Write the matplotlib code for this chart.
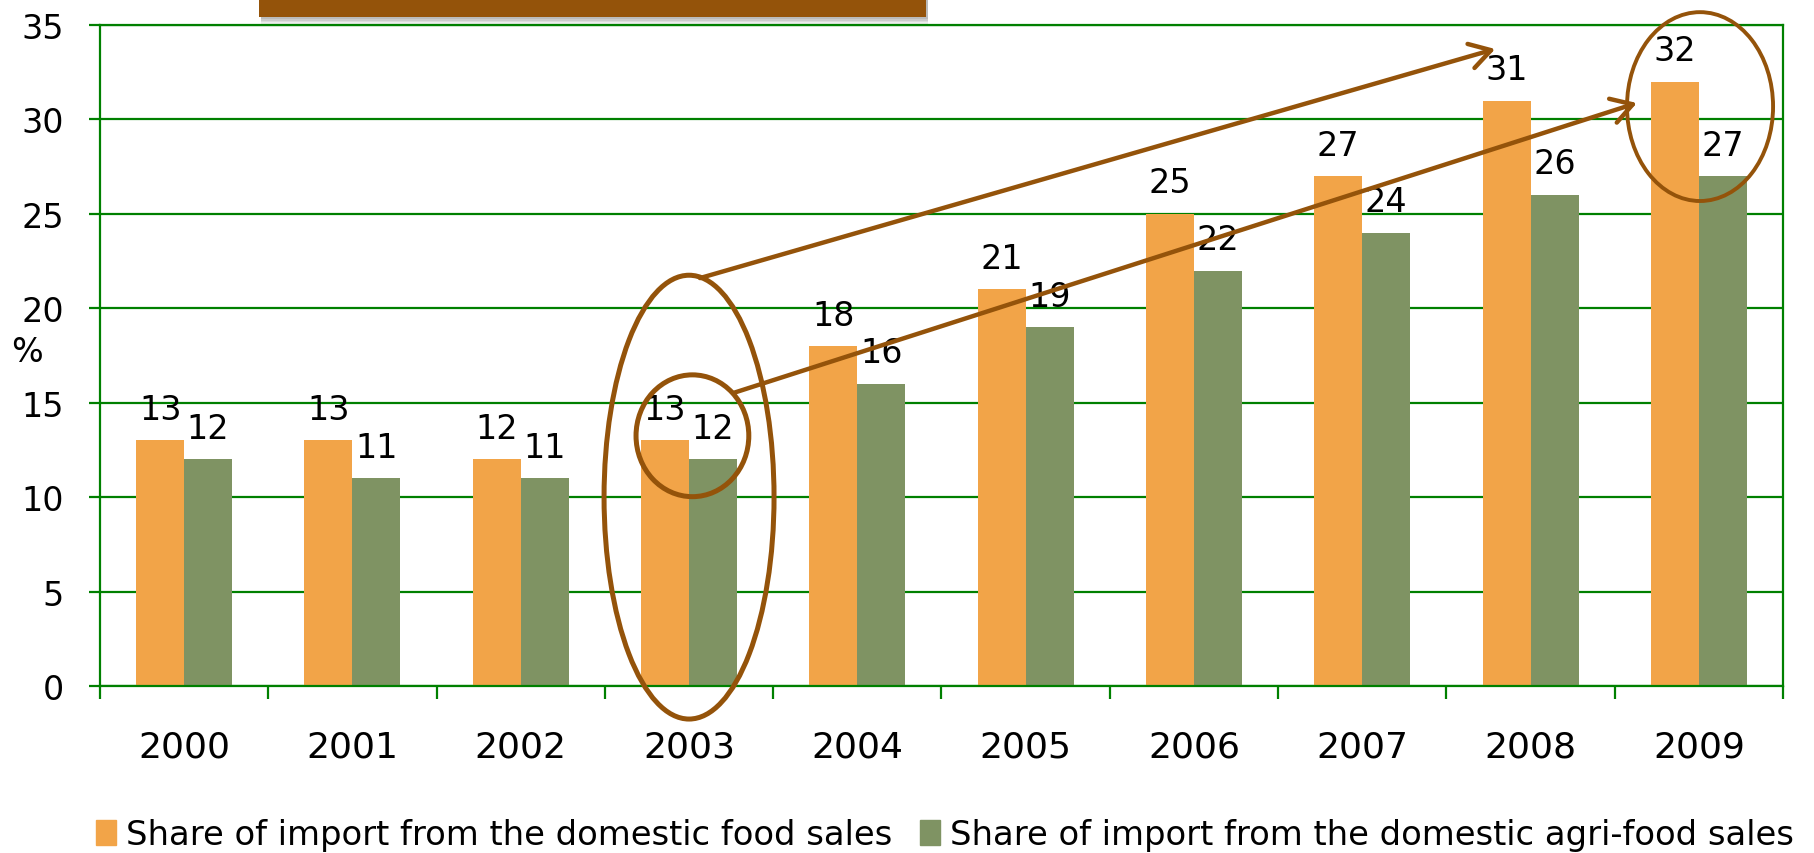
import matplotlib
matplotlib.use("Agg")
import matplotlib.pyplot as plt
from matplotlib import font_manager
from matplotlib.patches import Ellipse, Rectangle, Patch

# Data
years = ["2000", "2001", "2002", "2003", "2004", "2005", "2006", "2007", "2008", "2009"]
food_share = [13, 13, 12, 13, 18, 21, 25, 27, 31, 32]
agrifood_share = [12, 11, 11, 12, 16, 19, 22, 24, 26, 27]
series_labels = ["Share of import from the domestic food sales",
                 "Share of import from the domestic agri-food sales"]
y_ticks = [0, 5, 10, 15, 20, 25, 30, 35]

ORANGE = "#F2A448"
GREEN = "#7F9363"
GRID = "#008000"
BROWN = "#94530A"

installed = {f.name for f in font_manager.fontManager.ttflist}
narrow = "Liberation Sans Narrow" if "Liberation Sans Narrow" in installed else "DejaVu Sans"
plt.rcParams["font.family"] = ["DejaVu Sans"]

fig = plt.figure(figsize=(18.15, 8.54), dpi=100)
ax = fig.add_axes([100 / 1815, 1 - 687 / 854, 1683 / 1815, 661 / 854])

x = list(range(len(years)))
w = 0.285
bars1 = ax.bar([i - w / 2 for i in x], food_share, width=w, color=ORANGE, zorder=2)
bars2 = ax.bar([i + w / 2 for i in x], agrifood_share, width=w, color=GREEN, zorder=2)

for bars, vals in ((bars1, food_share), (bars2, agrifood_share)):
    for b, v in zip(bars, vals):
        ax.annotate(str(v), (b.get_x() + b.get_width() / 2, v), xytext=(0, 15.5),
                    textcoords="offset points", ha="center", va="baseline",
                    fontsize=24, color="black", zorder=4)

ax.set_xlim(-0.5, len(years) - 0.5)
ax.set_ylim(0, 35)
ax.set_yticks(y_ticks)
ax.set_xticks(x)
ax.set_xticklabels(years)
ax.set_xticks([i - 0.5 for i in range(len(years) + 1)], minor=True)

ax.yaxis.grid(True, color=GRID, linewidth=1.6, zorder=0)
ax.set_axisbelow(True)
for s in ax.spines.values():
    s.set_color(GRID)
    s.set_linewidth(1.6)

ax.tick_params(axis="y", direction="out", length=8, width=1.6, color=GRID,
               labelsize=24, pad=18)
ax.tick_params(axis="x", which="major", length=0, labelsize=26, pad=31)
ax.tick_params(axis="x", which="minor", direction="out", length=9, width=1.6, color=GRID)

fig.text(27 / 1815, 1 - 353 / 854, "%", fontsize=24, ha="center", va="center")

# Highlight rings and trend arrows
ax.add_patch(Ellipse((3.0, 10.0), 1.01, 23.5, fill=False, edgecolor=BROWN,
                     linewidth=3.6, zorder=5, clip_on=False))
ax.add_patch(Ellipse((3.02, 13.25), 0.67, 6.45, fill=False, edgecolor=BROWN,
                     linewidth=3.6, zorder=5, clip_on=False))
ax.add_patch(Ellipse((9.007, 30.68), 0.868, 10.0, fill=False, edgecolor=BROWN,
                     linewidth=2.8, zorder=5, clip_on=False))

arrow_style = dict(arrowstyle="->,head_length=0.75,head_width=0.45", color=BROWN,
                   lw=3.2, shrinkA=0, shrinkB=0, mutation_scale=20)
ax.annotate("", xy=(7.79, 33.73), xytext=(3.065, 21.6), arrowprops=arrow_style,
            annotation_clip=False, zorder=6)
ax.annotate("", xy=(8.632, 30.87), xytext=(3.261, 15.51), arrowprops=arrow_style,
            annotation_clip=False, zorder=6)

# Title band at the top with a soft shadow
bx, bw = 259 / 1815, (926 - 259) / 1815
for k, a in enumerate([0.10, 0.10, 0.12, 0.14]):
    off = (7 - 1.6 * k) / 854
    fig.patches.append(Rectangle((bx + 2 / 1815, 1 - 18 / 854 - off), bw, 18 / 854 + 0.01,
                                 transform=fig.transFigure, color="#555555", alpha=a,
                                 linewidth=0, zorder=1))
fig.patches.append(Rectangle((bx, 1 - 18 / 854), bw, 18 / 854 + 0.01,
                             transform=fig.transFigure, color=BROWN, linewidth=0, zorder=2))

handles = [Patch(color=ORANGE), Patch(color=GREEN)]
fs = 30 if narrow != "DejaVu Sans" else 24.3
fig.legend(handles, series_labels, loc="center left", bbox_to_anchor=(96 / 1815, 1 - 836 / 854),
           ncol=2, frameon=False, prop={"family": narrow, "size": fs},
           handlelength=0.6, handleheight=0.75, handletextpad=0.3, columnspacing=0.8,
           borderpad=0, borderaxespad=0)

fig.savefig("out.png", dpi=100)
